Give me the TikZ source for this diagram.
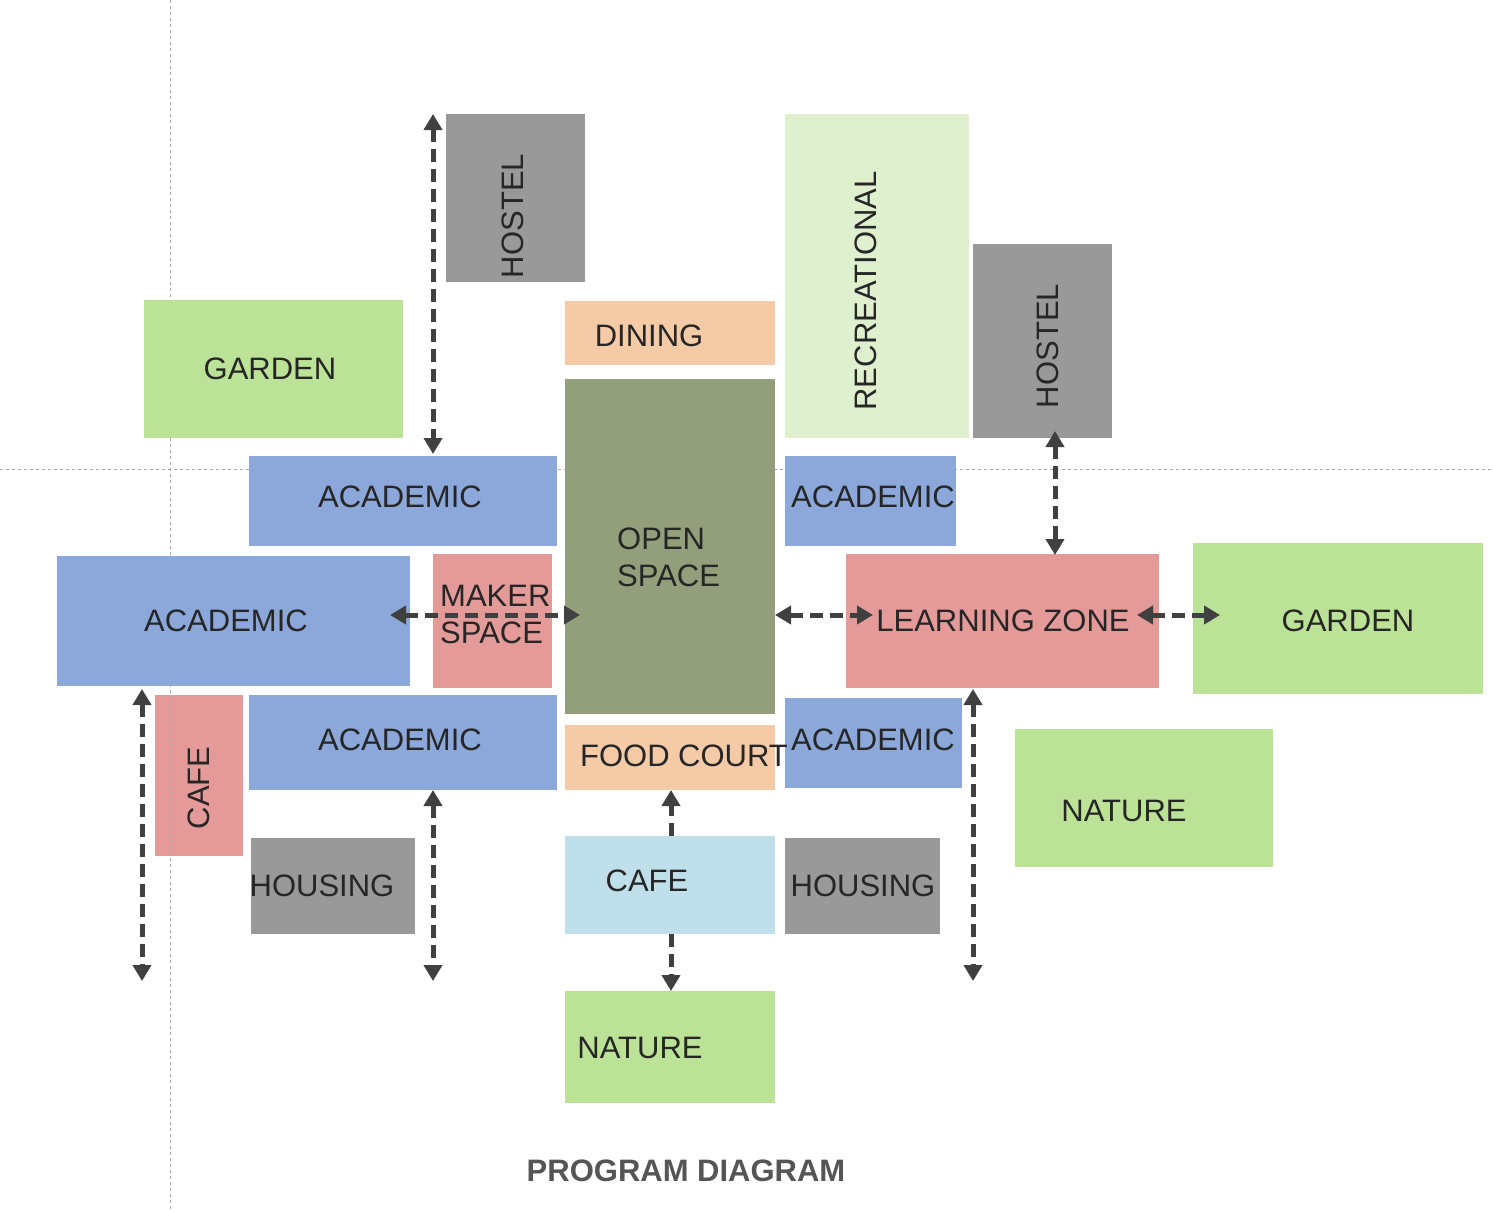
\documentclass[tikz,border=0pt]{standalone}
\usepackage{fontspec}
\setmainfont{Liberation Sans}
\usepackage{xcolor}
\usetikzlibrary{arrows.meta, positioning}

\definecolor{zonegray}{HTML}{999999}
\definecolor{zonegreen}{HTML}{BBE296}
\definecolor{zonepale}{HTML}{DFF0CE}
\definecolor{zonepeach}{HTML}{F5CBA7}
\definecolor{zoneolive}{HTML}{939F7A}
\definecolor{zoneblue}{HTML}{8CA8DA}
\definecolor{zonepink}{HTML}{E59A9A}
\definecolor{zonesky}{HTML}{BFE0EA}
\definecolor{linkgray}{HTML}{404040}
\definecolor{zoneink}{HTML}{262626}
\definecolor{titlegray}{HTML}{555555}
\definecolor{guidegray}{HTML}{AAAAAA}

\begin{document}
\begin{tikzpicture}[
    x=1pt, y=-1pt,
    zone/.style={
        rectangle, draw=none, inner sep=0pt, outer sep=0pt,
        anchor=north west
    },
    zonetext/.style={
        inner sep=0pt, text=zoneink,
        font=\fontsize{31}{37}\selectfont
    },
    guide/.style={guidegray, line width=0.8pt, dash pattern=on 3pt off 3pt},
    twoway/.style={
        linkgray, line width=5pt, dash pattern=on 13pt off 7pt,
        {Triangle[length=16pt,width=18pt]}-{Triangle[length=16pt,width=18pt]}
    },
    oneway/.style={
        linkgray, line width=5pt, dash pattern=on 13pt off 7pt,
        -{Triangle[length=16pt,width=18pt]}
    }
]
\useasboundingbox (0,0) rectangle (1493,1210);

% Zones under the guide lines
\node[zone, fill=zonepink, minimum width=88pt, minimum height=161pt] (cafeA) at (155,695) {};

% Guide lines
\draw[guide] (0,469) -- (1493,469);
\draw[guide] (170,0) -- (170,1210);

% Top row
\node[zone, fill=zonegray,  minimum width=139pt, minimum height=168pt] (hostelA) at (446,114) {};
\node[zone, fill=zonegreen, minimum width=259pt, minimum height=138pt] (gardenA) at (144,300) {};
\node[zone, fill=zonepeach, minimum width=210pt, minimum height=64pt]  (dining)  at (565,301) {};
\node[zone, fill=zonepale,  minimum width=184pt, minimum height=324pt] (recreat) at (785,114) {};
\node[zone, fill=zonegray,  minimum width=139pt, minimum height=194pt] (hostelB) at (973,244) {};

% Middle band
\node[zone, fill=zoneolive, minimum width=210pt, minimum height=335pt] (open)   at (565,379) {};
\node[zone, fill=zoneblue,  minimum width=308pt, minimum height=90pt]  (acadA)  at (249,456) {};
\node[zone, fill=zoneblue,  minimum width=171pt, minimum height=90pt]  (acadB)  at (785,456) {};
\node[zone, fill=zoneblue,  minimum width=353pt, minimum height=130pt] (acadC)  at (57,556)  {};
\node[zone, fill=zonepink,  minimum width=119pt, minimum height=134pt] (maker)  at (433,554) {};
\node[zone, fill=zonepink,  minimum width=313pt, minimum height=134pt] (learn)  at (846,554) {};
\node[zone, fill=zonegreen, minimum width=290pt, minimum height=151pt] (gardenB) at (1193,543) {};

% Lower band
\node[zone, fill=zoneblue,  minimum width=308pt, minimum height=95pt]  (acadD)   at (249,695) {};
\node[zone, fill=zonepeach, minimum width=210pt, minimum height=65pt]  (food)    at (565,725) {};
\node[zone, fill=zoneblue,  minimum width=177pt, minimum height=90pt]  (acadE)   at (785,698) {};
\node[zone, fill=zonegreen, minimum width=258pt, minimum height=138pt] (natureA) at (1015,729) {};
\node[zone, fill=zonegray,  minimum width=164pt, minimum height=96pt]  (housingA) at (251,838) {};
\node[zone, fill=zonesky,   minimum width=210pt, minimum height=98pt]  (cafeB)   at (565,836) {};
\node[zone, fill=zonegray,  minimum width=155pt, minimum height=96pt]  (housingB) at (785,838) {};
\node[zone, fill=zonegreen, minimum width=210pt, minimum height=112pt] (natureB) at (565,991) {};

% Zone names
\node[zonetext, rotate=90] (hostelA-t) at (513,216) {HOSTEL};
\node[zonetext] (gardenA-t) at (270,369) {GARDEN};
\node[zonetext] (dining-t)  at (649,336) {DINING};
\node[zonetext, rotate=90] (recreat-t) at (866,291) {RECREATIONAL};
\node[zonetext, rotate=90] (hostelB-t) at (1048,346) {HOSTEL};
\node[zonetext, anchor=west, align=left] (open-t) at (617,557) {OPEN\\SPACE};
\node[zonetext] (acadA-t) at (400,497) {ACADEMIC};
\node[zonetext] (acadB-t) at (873,497) {ACADEMIC};
\node[zonetext] (acadC-t) at (226,621) {ACADEMIC};
\node[zonetext, anchor=west, align=left] (maker-t) at (440,614) {MAKER\\SPACE};
\node[zonetext] (learn-t)   at (1003,621) {LEARNING ZONE};
\node[zonetext] (gardenB-t) at (1348,621) {GARDEN};
\node[zonetext, rotate=90] (cafeA-t) at (199,788) {CAFE};
\node[zonetext] (acadD-t)   at (400,740) {ACADEMIC};
\node[zonetext] (food-t)    at (684,756) {FOOD COURT};
\node[zonetext] (acadE-t)   at (873,740) {ACADEMIC};
\node[zonetext] (natureA-t) at (1124,811) {NATURE};
\node[zonetext] (housingA-t) at (322,886) {HOUSING};
\node[zonetext] (cafeB-t)   at (647,881) {CAFE};
\node[zonetext] (housingB-t) at (863,886) {HOUSING};
\node[zonetext] (natureB-t) at (640,1048) {NATURE};

% Title
\node[inner sep=0pt, text=titlegray, font=\fontsize{31}{37}\selectfont\bfseries] (title) at (686,1171) {PROGRAM DIAGRAM};

% Link ends
\coordinate (hostelA-up)  at (433,114);
\coordinate (acadA-up)    at (433,454);
\coordinate (acadC-in)    at (390,615);
\coordinate (open-in)     at (580,615);
\coordinate (open-out)    at (775,615);
\coordinate (learn-in)    at (873,615);
\coordinate (learn-out)   at (1137,615);
\coordinate (gardenB-in)  at (1220,615);
\coordinate (hostelB-low) at (1055,431);
\coordinate (learn-top)   at (1055,555);
\coordinate (acadC-low)   at (142,689);
\coordinate (westend)     at (142,981);
\coordinate (acadD-low)   at (433,790);
\coordinate (midend)      at (433,981);
\coordinate (learn-low)   at (973,689);
\coordinate (eastend)     at (973,981);

% Links
\draw[twoway] (hostelA-up)  -- (acadA-up);
\draw[twoway] (acadC-in)    -- (open-in);
\draw[twoway] (open-out)    -- (learn-in);
\draw[twoway] (learn-out)   -- (gardenB-in);
\draw[twoway] (hostelB-low) -- (learn-top);
\draw[twoway] (acadC-low)   -- (westend);
\draw[twoway] (acadD-low)   -- (midend);
\draw[twoway] (learn-low)   -- (eastend);
\draw[oneway] ([xshift=1pt]cafeB.north) -- ([xshift=1pt]food.south);
\draw[oneway] ([xshift=1pt]cafeB.south) -- ([xshift=1pt]natureB.north);

\end{tikzpicture}
\end{document}
